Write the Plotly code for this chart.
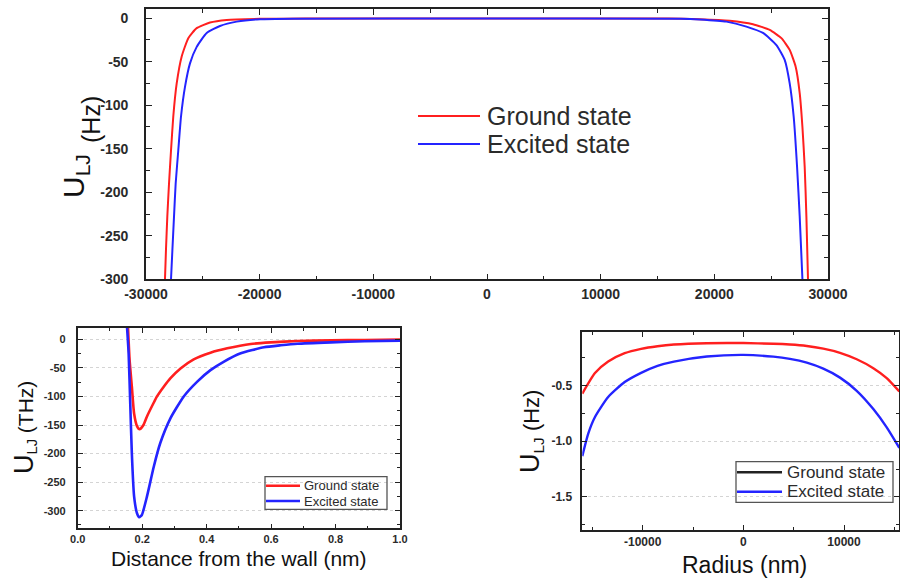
import plotly.graph_objects as go

W, H = 900, 581

series_names = ["Ground state", "Excited state"]
RED = "#ff1f1f"
BLUE = "#2424ff"

# ---- Upper panel: U_LJ (Hz) across the whole cell ----
top_x_ground = [-28330, -28240, -28125, -27975, -27800, -27600, -27300, -26860, -26280,
                -25540, -24370, -22900, -19970, -16000, 0, 16000, 18700, 21350, 23400,
                24870, 25900, 26630, 27160, 27510, 27750, 27950, 28100, 28240]
top_y_ground = [-300, -265, -228, -190, -152, -113, -75, -44, -23,
                -11.5, -5, -2, -0.8, -0.5, -0.5, -0.5, -1.2, -3, -7,
                -13.5, -23, -36.5, -56, -86, -125, -171, -228, -300]

top_x_excited = [-27800, -27680, -27536, -27390, -27160, -26920, -26570, -26130, -25540,
                 -24660, -23490, -22020, -19970, -17040, 0, 17040, 18710, 21060, 22820,
                 24280, 25460, 26190, 26630, 26980, 27280, 27510, 27750]
top_y_excited = [-300, -267, -228, -190, -152, -113, -79, -52, -33,
                 -17, -9, -4, -1.2, -0.6, -0.5, -0.6, -1.5, -4, -9.7,
                 -17, -31, -48, -75, -113, -171, -228, -300]

top_xticks = [-30000, -20000, -10000, 0, 10000, 20000, 30000]
top_xticklabels = ["-30000", "-20000", "-10000", "0", "10000", "20000", "30000"]
top_xminor = [-25000, -15000, -5000, 5000, 15000, 25000]
top_yticks = [0, -50, -100, -150, -200, -250, -300]
top_yticklabels = ["0", "-50", "-100", "-150", "-200", "-250", "-300"]
top_yminor = [-25, -75, -125, -175, -225, -275]

# ---- Lower-left panel: U_LJ (THz) vs distance from the wall ----
wall_x_ground = [0.156, 0.161, 0.168, 0.175, 0.184, 0.192, 0.204, 0.215, 0.235, 0.246, 0.267,
                 0.288, 0.319, 0.360, 0.412, 0.464, 0.537, 0.599, 0.682, 0.786, 0.890, 1.0]
wall_y_ground = [22, -36, -83, -130, -152, -157.5, -150, -135, -112, -100, -83,
                 -68, -51, -35, -23.4, -15.8, -8.2, -5.3, -3, -1.8, -1.2, -0.3]

wall_x_excited = [0.153, 0.158, 0.163, 0.168, 0.175, 0.184, 0.191, 0.199, 0.215, 0.236,
                  0.256, 0.288, 0.329, 0.371, 0.412, 0.454, 0.506, 0.578, 0.630, 0.682,
                  0.786, 0.890, 1.0]
wall_y_excited = [22, -24.5, -112, -200, -275, -304.5, -311.5, -307.5, -275, -223,
                  -182, -138, -100, -74, -54, -39, -24.5, -14, -10.5, -7.7,
                  -5.3, -3.5, -2.4]

wall_xticks = [0.0, 0.2, 0.4, 0.6, 0.8, 1.0]
wall_xticklabels = ["0.0", "0.2", "0.4", "0.6", "0.8", "1.0"]
wall_xminor = [0.1, 0.3, 0.5, 0.7, 0.9]
wall_yticks = [0, -50, -100, -150, -200, -250, -300]
wall_yticklabels = ["0", "-50", "-100", "-150", "-200", "-250", "-300"]
wall_yminor = [-25, -75, -125, -175, -225, -275, -325]

# ---- Lower-right panel: U_LJ (Hz) vs radius ----
rad_x_ground = [-16000, -14740, -13430, -11790, -10160, -8530, -6900, -3630, 0,
                2980, 4620, 6300, 7940, 9600, 11260, 12910, 14240, 15490]
rad_y_ground = [-0.574, -0.389, -0.286, -0.211, -0.172, -0.148, -0.133, -0.121, -0.12,
                -0.126, -0.133, -0.146, -0.170, -0.207, -0.265, -0.345, -0.434, -0.554]

rad_x_excited = [-16000, -15410, -14740, -13430, -11790, -10160, -8530, -6900, -3630, 0,
                 2980, 4620, 6300, 7940, 9600, 11260, 12910, 14240, 15490]
rad_y_excited = [-1.134, -0.932, -0.783, -0.604, -0.470, -0.387, -0.324, -0.286, -0.241, -0.226,
                 -0.242, -0.262, -0.296, -0.350, -0.430, -0.548, -0.712, -0.876, -1.06]

rad_xticks = [-10000, 0, 10000]
rad_xticklabels = ["-10000", "0", "10000"]
rad_xminor = [-15000, -5000, 5000, 15000]
rad_yticks = [-0.5, -1.0, -1.5]
rad_yticklabels = ["-0.5", "-1.0", "-1.5"]
rad_yminor = [-0.25, -0.75, -1.25, -1.75]

FONT = "Liberation Sans, Arial, sans-serif"


def px(x):
    return x / W


def py(y):
    return 1 - y / H


fig = go.Figure()


def curve(xs, ys, name, color, width, axes, smoothing):
    fig.add_trace(go.Scatter(x=xs, y=ys, mode="lines", name=name,
                             line=dict(color=color, width=width, shape="spline",
                                       smoothing=smoothing),
                             xaxis=axes[0], yaxis=axes[1], showlegend=False))


curve(top_x_ground, top_y_ground, series_names[0], RED, 2, ("x", "y"), 0.5)
curve(top_x_excited, top_y_excited, series_names[1], BLUE, 2, ("x", "y"), 0.5)
curve(wall_x_ground, wall_y_ground, series_names[0], RED, 2.6, ("x2", "y2"), 0.5)
curve(wall_x_excited, wall_y_excited, series_names[1], BLUE, 2.6, ("x2", "y2"), 0.5)
curve(rad_x_ground, rad_y_ground, series_names[0], RED, 2.4, ("x3", "y3"), 0.6)
curve(rad_x_excited, rad_y_excited, series_names[1], BLUE, 2.4, ("x3", "y3"), 0.6)


def axis(domain, anchor, rng, tickvals, ticktext, minor_vals, tick_size, standoff,
         grid=False, ticklen=6, minorlen=4):
    return dict(
        domain=domain, anchor=anchor, range=rng, automargin=False,
        tickmode="array", tickvals=tickvals, ticktext=ticktext,
        ticks="inside", ticklen=ticklen, tickwidth=1.3, tickcolor="#222",
        minor=dict(ticks="inside", ticklen=minorlen, tickwidth=1.2, tickcolor="#222",
                   tickmode="array", tickvals=minor_vals, showgrid=False),
        showline=True, linecolor="#222", linewidth=1.6, mirror="allticks",
        showgrid=grid, gridcolor="#d4d4d4", griddash="dot", gridwidth=1,
        zeroline=False,
        tickfont=dict(family=FONT, size=tick_size, color="#2a2a2a", weight="bold"),
        ticklabelstandoff=standoff,
    )


layout = dict(
    width=W, height=H, margin=dict(l=0, r=0, t=0, b=0, autoexpand=False),
    paper_bgcolor="white", plot_bgcolor="white",
    showlegend=False,
    xaxis=axis([px(146), px(828)], "y", [-30000, 30000], top_xticks, top_xticklabels,
               top_xminor, 14, 1),
    yaxis=axis([py(279.3), py(9)], "x", [-300, 10.5], top_yticks, top_yticklabels,
               top_yminor, 14, 13),
    xaxis2=axis([px(77.7), px(400)], "y2", [0, 1.0], wall_xticks, wall_xticklabels,
                wall_xminor, 11, 0, ticklen=5, minorlen=3),
    yaxis2=axis([py(528.3), py(327.7)], "x2", [-330.8, 20.3], wall_yticks, wall_yticklabels,
                wall_yminor, 11, 8, grid=True, ticklen=5, minorlen=3),
    xaxis3=axis([px(582.3), px(899)], "y3", [-16000, 15460], rad_xticks, rad_xticklabels,
                rad_xminor, 12, 0, ticklen=5, minorlen=3),
    yaxis3=axis([py(530), py(331.7)], "x3", [-1.797, -0.018], rad_yticks, rad_yticklabels,
                rad_yminor, 12, 6, grid=True, ticklen=5, minorlen=3),
)
fig.update_layout(layout)

TXT = "#2b2b2b"
annotations = [
    # axis titles
    dict(text="U<sub>LJ</sub>", x=px(75), y=py(176), textangle=-90,
         font=dict(family=FONT, size=30, color="#111")),
    dict(text="(Hz)", x=px(91), y=py(120), textangle=-90,
         font=dict(family=FONT, size=25, color="#111")),
    dict(text='<span style="font-size:27px">U</span><sub>LJ</sub> (THz)', x=px(24), y=py(428),
         textangle=-90, font=dict(family=FONT, size=21, color="#111")),
    dict(text='<span style="font-size:27px">U</span><sub>LJ</sub> (Hz)', x=px(531), y=py(432),
         textangle=-90, font=dict(family=FONT, size=22, color="#111")),
    dict(text="Distance from the wall (nm)", x=px(239), y=py(558),
         font=dict(family=FONT, size=21, color="#111")),
    dict(text="Radius (nm)", x=px(744), y=py(565),
         font=dict(family=FONT, size=23, color="#111")),
]
for a in annotations:
    a.update(xref="paper", yref="paper", showarrow=False, xanchor="center", yanchor="middle")

shapes = []


def legend(x_line0, x_line1, x_text, rows, colors, size, box=None, width=2):
    for (yrow, name, col) in zip(rows, series_names, colors):
        shapes.append(dict(type="line", xref="paper", yref="paper",
                           x0=px(x_line0), x1=px(x_line1), y0=py(yrow), y1=py(yrow),
                           line=dict(color=col, width=width)))
        annotations.append(dict(text=name, xref="paper", yref="paper", x=px(x_text), y=py(yrow),
                                xanchor="left", yanchor="middle", showarrow=False,
                                font=dict(family=FONT, size=size, color=TXT)))
    if box:
        shapes.append(dict(type="rect", xref="paper", yref="paper",
                           x0=px(box[0]), x1=px(box[1]), y0=py(box[3]), y1=py(box[2]),
                           line=dict(color="#555", width=1.3)))


legend(418, 480, 485, [116, 144], [RED, BLUE], 25, width=2)
legend(266, 300, 302, [485.7, 501], [RED, BLUE], 13, box=(265, 387, 476.7, 509.3), width=2.5)
legend(737, 782, 785, [472.3, 491.7], ["#222", BLUE], 17, box=(736, 893, 461.7, 502.3), width=2.5)

fig.update_layout(annotations=annotations, shapes=shapes)

fig.write_html("out.html")
